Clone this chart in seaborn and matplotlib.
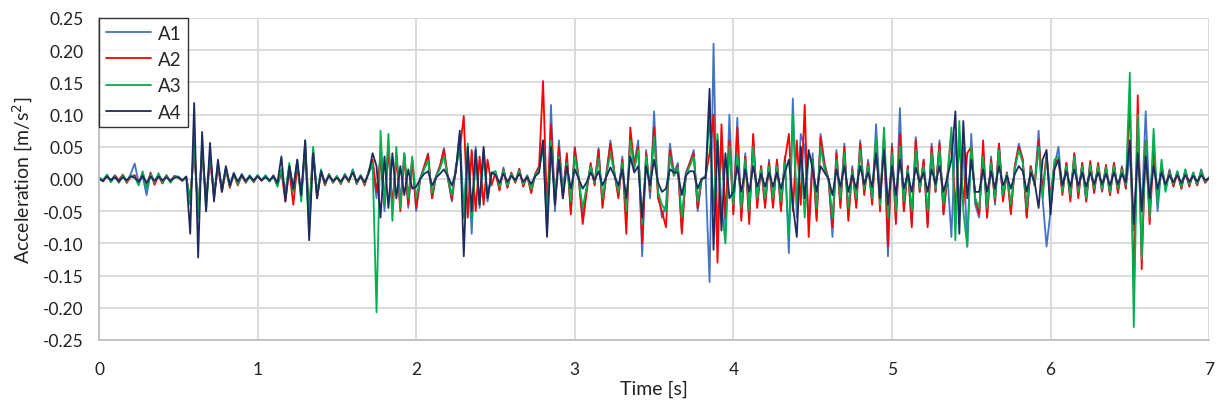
import numpy as np
import pandas as pd
import matplotlib
matplotlib.use("Agg")
import matplotlib.pyplot as plt
import seaborn as sns

# sample times [s] (0.025 s spacing, 0 .. 7 s)
time_s = np.round(np.arange(0, 281) * 0.025, 3)

A1 = [
    0.002, -0.004, 0.005, -0.002, 0.006, -0.003, 0.004, -0.005, 0.008, 0.024,
    -0.006, 0.004, -0.025, 0.008, -0.004, 0.006, -0.006, 0.004, -0.003, 0.005,
    0.003, -0.002, 0.002, -0.030, 0.045, -0.050, 0.040, -0.030, 0.035, -0.030,
    0.022, -0.015, 0.018, -0.010, 0.010, -0.006, 0.008, -0.004, 0.006, -0.004,
    0.006, -0.002, 0.005, -0.003, 0.006, -0.008, 0.010, -0.020, 0.020, -0.015,
    0.025, -0.030, 0.045, -0.080, 0.040, -0.020, 0.010, -0.008, 0.006, -0.004,
    0.004, -0.006, 0.008, -0.004, 0.015, -0.006, 0.006, -0.008, 0.010, 0.020,
    -0.030, 0.040, -0.050, 0.045, -0.040, 0.035, -0.035, 0.040, -0.045, 0.030,
    -0.050, 0.000, 0.020, 0.040, -0.030, 0.005, 0.020, 0.048, 0.000, -0.035,
    0.015, 0.070, -0.050, 0.040, -0.085, 0.050, -0.045, 0.045, -0.035, 0.010,
    0.012, -0.015, 0.018, -0.012, 0.008, -0.004, 0.015, -0.010, 0.006, -0.020,
    0.006, 0.015, 0.060, -0.085, 0.115, -0.050, 0.060, -0.020, 0.035, -0.050,
    0.050, 0.000, -0.060, -0.015, 0.022, -0.008, 0.048, -0.040, 0.008, 0.060,
    0.008, -0.025, 0.035, -0.060, 0.065, 0.025, 0.060, -0.120, 0.045, -0.030,
    0.105, -0.020, -0.060, -0.040, 0.055, 0.010, 0.025, -0.080, 0.010, 0.025,
    0.045, -0.050, 0.000, 0.005, -0.160, 0.210, -0.090, 0.060, -0.080, 0.100,
    -0.050, 0.095, -0.060, 0.040, -0.060, 0.065, -0.040, 0.020, -0.040, 0.030,
    -0.040, 0.030, -0.045, 0.035, -0.115, 0.125, -0.060, 0.070, 0.050, -0.070,
    0.040, -0.060, 0.070, 0.025, 0.000, -0.090, 0.045, -0.040, 0.055, -0.060,
    0.020, -0.040, 0.060, -0.020, 0.030, -0.035, 0.085, -0.030, 0.060, -0.120,
    0.055, -0.065, 0.110, -0.050, 0.020, -0.070, 0.065, -0.020, 0.030, -0.070,
    0.055, -0.020, 0.060, -0.055, 0.005, -0.090, 0.070, -0.040, 0.050, -0.105,
    0.070, -0.040, -0.060, 0.040, -0.060, 0.035, -0.040, 0.055, -0.030, 0.010,
    -0.050, 0.020, 0.055, 0.030, -0.060, 0.020, -0.010, 0.075, -0.030, -0.105,
    -0.050, 0.020, 0.050, -0.020, 0.025, -0.030, 0.040, -0.025, 0.025, -0.035,
    0.025, -0.020, 0.022, -0.020, 0.020, -0.025, 0.025, -0.020, 0.020, -0.015,
    0.040, -0.080, 0.060, -0.050, 0.105, -0.040, 0.045, -0.050, 0.020, -0.015,
    0.015, -0.010, 0.012, -0.015, 0.015, -0.010, 0.008, -0.010, 0.015, -0.005, 0.003,
]

A2 = [
    0.001, -0.003, 0.006, -0.004, 0.005, -0.002, 0.007, -0.006, 0.004, 0.006,
    -0.008, 0.009, -0.012, 0.010, -0.009, 0.005, -0.007, 0.006, -0.004, 0.004,
    0.002, -0.003, 0.003, -0.035, 0.050, -0.055, 0.045, -0.035, 0.030, -0.025,
    0.020, -0.020, 0.015, -0.014, 0.008, -0.010, 0.006, -0.006, 0.004, -0.005,
    0.005, -0.003, 0.004, -0.004, 0.005, -0.010, 0.012, -0.035, 0.015, -0.040,
    0.020, -0.025, 0.050, -0.050, 0.045, -0.030, 0.012, -0.010, 0.008, -0.006,
    0.003, -0.008, 0.006, -0.005, 0.013, -0.008, 0.005, -0.010, 0.012, 0.030,
    -0.020, 0.030, -0.040, 0.050, -0.045, 0.035, -0.050, 0.035, -0.040, 0.030,
    -0.045, 0.000, 0.018, 0.038, -0.030, 0.003, 0.020, 0.045, 0.002, -0.032,
    0.020, 0.045, 0.098, -0.060, 0.045, -0.050, 0.035, -0.040, 0.030, -0.010,
    0.010, -0.018, 0.015, -0.014, 0.010, -0.006, 0.016, -0.012, 0.005, -0.022,
    0.008, 0.020, 0.152, -0.050, 0.085, -0.040, 0.050, -0.030, 0.040, -0.055,
    0.048, 0.000, -0.070, -0.020, 0.025, -0.010, 0.045, -0.045, 0.010, 0.055,
    0.010, -0.030, 0.030, -0.085, 0.080, 0.020, 0.050, -0.100, 0.040, -0.020,
    0.080, -0.030, -0.050, -0.075, 0.045, 0.005, 0.020, -0.085, 0.005, 0.025,
    0.040, -0.045, 0.000, 0.003, 0.040, 0.100, -0.130, 0.085, -0.060, 0.060,
    -0.055, 0.080, -0.065, 0.035, -0.070, 0.070, -0.045, 0.020, -0.045, 0.025,
    -0.045, 0.030, -0.050, 0.030, 0.070, -0.050, 0.060, -0.040, 0.115, -0.090,
    0.030, -0.065, 0.065, 0.020, 0.000, -0.075, 0.040, -0.045, 0.050, -0.065,
    0.015, -0.045, 0.055, -0.025, 0.025, -0.040, 0.060, -0.050, 0.070, -0.105,
    0.050, -0.070, 0.070, -0.050, 0.020, -0.075, 0.060, -0.020, 0.030, -0.075,
    0.050, -0.020, 0.055, -0.055, 0.005, 0.070, -0.050, 0.060, -0.040, 0.040,
    0.050, -0.030, -0.055, 0.060, -0.060, 0.030, -0.035, 0.055, -0.035, 0.010,
    -0.055, 0.020, 0.050, 0.030, -0.060, 0.020, -0.010, 0.060, -0.020, 0.040,
    -0.030, 0.025, 0.030, -0.025, 0.025, -0.035, 0.040, -0.030, 0.025, -0.035,
    0.028, -0.022, 0.025, -0.018, 0.022, -0.025, 0.025, -0.022, 0.018, -0.015,
    0.125, -0.175, 0.130, -0.140, 0.060, -0.070, 0.040, -0.030, 0.020, -0.015,
    0.012, -0.012, 0.010, -0.015, 0.012, -0.012, 0.010, -0.010, 0.012, -0.006, 0.002,
]

A3 = [
    0.003, -0.002, 0.007, -0.005, 0.004, -0.006, 0.006, -0.004, 0.006, 0.003,
    -0.010, 0.012, -0.015, 0.008, -0.006, 0.009, -0.005, 0.006, -0.006, 0.003,
    0.004, -0.003, 0.003, -0.040, 0.060, -0.060, 0.055, -0.050, 0.040, -0.025,
    0.025, -0.018, 0.015, -0.012, 0.008, -0.008, 0.006, -0.005, 0.005, -0.003,
    0.006, -0.002, 0.006, -0.003, 0.004, -0.012, 0.015, -0.025, 0.025, -0.020,
    0.030, -0.035, 0.060, -0.060, 0.050, -0.025, 0.015, -0.008, 0.007, -0.005,
    0.005, -0.007, 0.007, -0.004, 0.014, -0.007, 0.006, -0.008, 0.011, 0.025,
    -0.207, 0.075, -0.040, 0.070, -0.065, 0.050, -0.045, 0.040, -0.030, 0.035,
    -0.030, 0.000, 0.015, 0.028, -0.022, 0.004, 0.016, 0.035, 0.002, -0.025,
    0.015, 0.050, -0.060, 0.055, -0.065, 0.030, -0.040, 0.035, -0.030, 0.008,
    0.012, -0.012, 0.014, -0.010, 0.008, -0.004, 0.013, -0.008, 0.005, -0.016,
    0.006, 0.015, 0.050, -0.060, 0.060, -0.030, 0.035, -0.020, 0.025, -0.035,
    0.035, 0.000, -0.045, -0.012, 0.020, -0.006, 0.032, -0.030, 0.008, 0.040,
    0.008, -0.020, 0.025, -0.050, 0.060, 0.015, 0.045, -0.070, 0.035, -0.015,
    0.065, -0.020, -0.040, -0.050, 0.035, 0.005, 0.018, -0.060, 0.005, 0.020,
    0.035, -0.035, 0.000, 0.003, 0.100, -0.050, 0.070, -0.040, -0.100, 0.050,
    -0.040, 0.040, -0.045, 0.030, -0.050, 0.050, -0.030, 0.015, -0.030, 0.020,
    -0.030, 0.020, -0.035, 0.025, -0.090, 0.100, -0.040, 0.050, -0.060, 0.040,
    0.025, -0.045, 0.050, 0.015, 0.000, -0.060, 0.030, -0.030, 0.040, -0.045,
    0.012, -0.030, 0.045, -0.015, 0.020, -0.030, 0.065, -0.040, 0.080, -0.060,
    0.040, -0.050, 0.050, -0.035, 0.015, -0.050, 0.045, -0.015, 0.020, -0.050,
    0.040, -0.015, 0.045, -0.040, 0.005, 0.080, -0.095, 0.090, -0.050, -0.105,
    0.050, -0.030, -0.045, 0.035, -0.045, 0.025, -0.030, 0.045, -0.025, 0.008,
    -0.040, 0.015, 0.045, 0.025, -0.045, 0.015, -0.010, 0.050, -0.030, 0.035,
    -0.035, 0.030, 0.035, -0.020, 0.020, -0.025, 0.035, -0.020, 0.020, -0.030,
    0.022, -0.015, 0.020, -0.015, 0.018, -0.020, 0.020, -0.015, 0.015, -0.010,
    0.165, -0.230, 0.100, -0.125, 0.060, -0.060, 0.078, -0.040, 0.030, -0.020,
    0.010, -0.008, 0.012, -0.012, 0.014, -0.008, 0.010, -0.008, 0.012, -0.004, 0.002,
]

A4 = [
    0.000, -0.003, 0.004, -0.002, 0.003, -0.004, 0.003, -0.002, 0.004, 0.002,
    -0.004, 0.005, -0.006, 0.004, -0.003, 0.004, -0.002, 0.003, -0.003, 0.002,
    0.003, -0.002, 0.004, -0.085, 0.118, -0.122, 0.073, -0.050, 0.056, -0.035,
    0.030, -0.020, 0.020, -0.010, 0.008, -0.004, 0.006, -0.003, 0.004, -0.002,
    0.004, -0.002, 0.003, -0.002, 0.004, -0.006, 0.035, -0.035, 0.020, -0.015,
    0.030, -0.025, 0.060, -0.095, 0.040, -0.030, 0.012, -0.006, 0.005, -0.003,
    0.002, -0.004, 0.005, -0.002, 0.010, -0.004, 0.004, -0.005, 0.008, 0.040,
    0.020, -0.060, 0.035, -0.045, 0.040, -0.030, 0.020, -0.025, 0.015, -0.015,
    -0.012, 0.000, 0.008, 0.012, -0.010, 0.002, 0.008, 0.015, 0.004, -0.010,
    0.010, 0.075, -0.120, 0.050, -0.050, 0.045, -0.040, 0.050, -0.030, 0.010,
    0.006, -0.006, 0.008, -0.004, 0.005, -0.002, 0.008, -0.004, 0.003, -0.008,
    0.004, 0.010, 0.060, -0.090, 0.050, -0.040, 0.030, -0.030, 0.020, -0.015,
    0.015, 0.000, -0.015, -0.005, 0.010, -0.002, 0.012, -0.010, 0.004, 0.018,
    0.005, -0.010, 0.015, -0.030, 0.035, 0.010, 0.020, -0.060, 0.020, -0.010,
    0.030, -0.005, -0.020, -0.015, 0.015, 0.010, 0.010, -0.025, 0.005, 0.012,
    0.012, -0.015, 0.000, 0.002, 0.140, -0.110, 0.060, -0.080, 0.040, -0.030,
    -0.020, 0.020, -0.020, 0.015, -0.020, 0.020, -0.012, 0.008, -0.012, 0.010,
    -0.012, 0.010, -0.015, 0.010, 0.030, -0.040, -0.090, 0.050, -0.030, 0.045,
    0.015, -0.020, 0.020, 0.010, 0.000, -0.025, 0.015, -0.012, 0.020, -0.020,
    0.006, -0.015, 0.020, -0.008, 0.010, -0.012, 0.040, -0.030, 0.045, -0.040,
    0.020, -0.025, 0.030, -0.015, 0.008, -0.020, 0.018, -0.005, 0.010, -0.020,
    0.015, -0.008, 0.020, -0.020, 0.003, 0.030, 0.105, -0.085, 0.090, -0.030,
    0.030, -0.020, -0.020, 0.015, -0.020, 0.012, -0.015, 0.020, -0.010, 0.005,
    -0.015, 0.008, 0.020, 0.012, -0.020, 0.010, -0.005, -0.045, 0.030, 0.045,
    -0.055, 0.015, 0.030, -0.010, 0.012, -0.012, 0.015, -0.010, 0.010, -0.012,
    0.010, -0.008, 0.010, -0.008, 0.008, -0.010, 0.010, -0.008, 0.008, -0.005,
    0.060, -0.070, 0.040, -0.050, 0.035, -0.030, 0.020, -0.015, 0.010, -0.008,
    0.006, -0.005, 0.006, -0.006, 0.006, -0.004, 0.005, -0.004, 0.006, -0.002, 0.001,
]

series_names = ["A1", "A2", "A3", "A4"]
series_colors = ["#4472C4", "#FF0000", "#00B050", "#1F2A5E"]
x_ticks = [0, 1, 2, 3, 4, 5, 6, 7]
y_ticks = [-0.25, -0.20, -0.15, -0.10, -0.05, 0.00, 0.05, 0.10, 0.15, 0.20, 0.25]

frames = []
for name, vals in zip(series_names, [A1, A2, A3, A4]):
    frames.append(pd.DataFrame({"Time": time_s[:len(vals)], "Acc": vals, "Series": name}))
df = pd.concat(frames, ignore_index=True)

sns.set_theme(style="white")
plt.rcParams["font.family"] = ["Lato", "DejaVu Sans"]

fig = plt.figure(figsize=(12.18, 4.10), dpi=100)
ax = fig.add_axes([0.0813, 0.1683, 0.9114, 0.7854])

sns.lineplot(data=df, x="Time", y="Acc", hue="Series", hue_order=series_names,
             palette=series_colors, linewidth=1.3, ax=ax, estimator=None,
             sort=False, legend=True)

ax.set_xlim(0, 7)
ax.set_ylim(-0.25, 0.25)
ax.set_xticks(x_ticks)
ax.set_yticks(y_ticks)
ax.set_yticklabels([f"{v:.2f}" for v in y_ticks])
ax.grid(True, color="#D9D9D9", linewidth=1.3)
ax.set_axisbelow(True)
for s in ["top", "right"]:
    ax.spines[s].set_visible(False)
for s in ["left", "bottom"]:
    ax.spines[s].set_color("#BFBFBF")
    ax.spines[s].set_linewidth(1.3)
ax.tick_params(axis="both", which="both", length=5, width=1.2, color="#BFBFBF",
               labelsize=12.5, labelcolor="#222222", pad=6)
ax.tick_params(axis="x", pad=10)
ax.set_xlabel("Time [s]", fontsize=14, color="#222222", labelpad=2)
ax.set_ylabel("Acceleration [m/s$^2$]", fontsize=14, color="#222222", labelpad=6)

leg = ax.legend(loc="upper left", bbox_to_anchor=(0.0, 1.0), frameon=True,
                fancybox=False, edgecolor="black", fontsize=13.5,
                handlelength=2.4, handletextpad=0.4, labelspacing=0.5,
                borderpad=0.35, borderaxespad=0.0)
leg.get_frame().set_linewidth(1.0)
for line in leg.get_lines():
    line.set_linewidth(1.3)

fig.savefig("out.png", dpi=100)
